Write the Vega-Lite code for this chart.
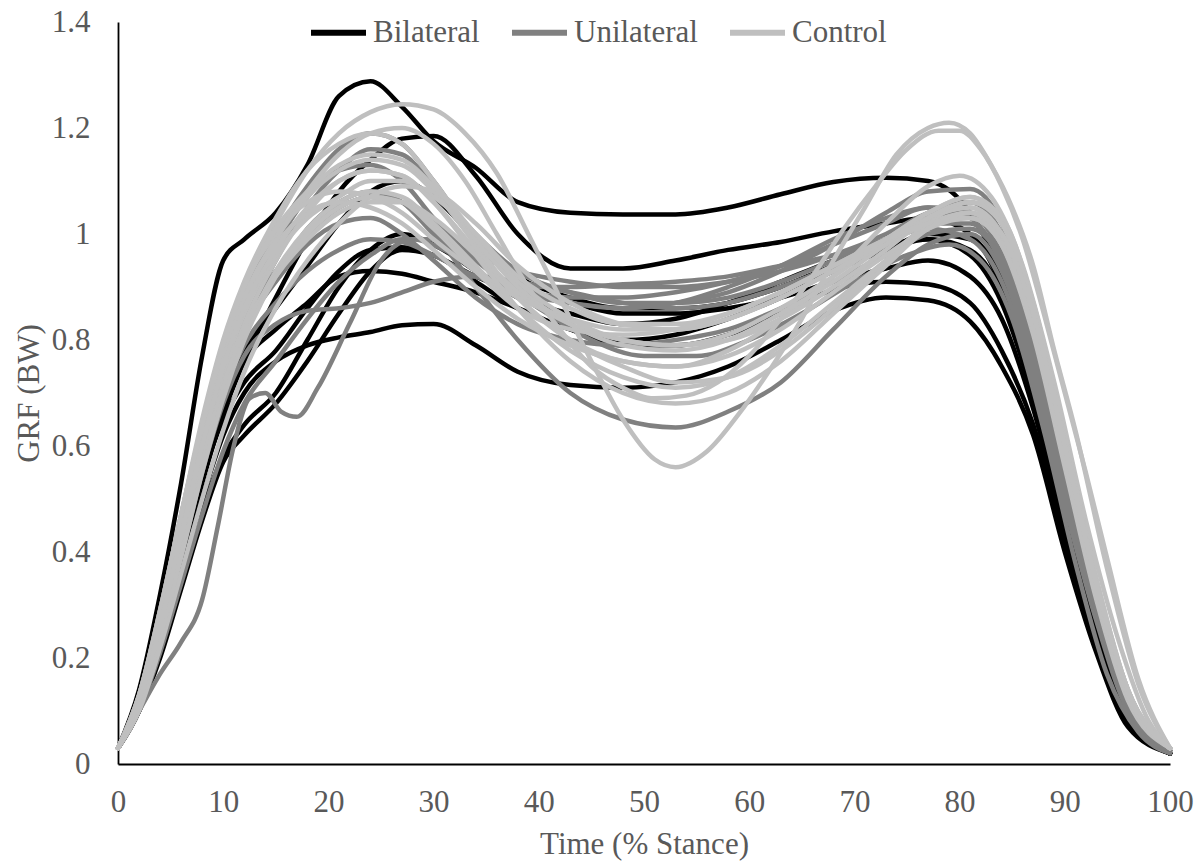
{
"$schema": "https://vega.github.io/schema/vega-lite/v6.json",
"width": 1052, "height": 742,
"autosize": {"type": "none"},
"padding": {"left": 118, "top": 22, "right": 33, "bottom": 103},
"background": "white",
"config": {"view": {"stroke": null}, "font": "Liberation Serif"},
"datasets": {
"groups": [
{"i":1,"g":"Bilateral"},{"i":2,"g":"Bilateral"},{"i":3,"g":"Bilateral"},{"i":4,"g":"Bilateral"},{"i":5,"g":"Bilateral"},{"i":6,"g":"Bilateral"},{"i":7,"g":"Bilateral"},{"i":8,"g":"Bilateral"},
{"i":9,"g":"Unilateral"},{"i":10,"g":"Unilateral"},{"i":11,"g":"Unilateral"},{"i":12,"g":"Unilateral"},{"i":13,"g":"Unilateral"},{"i":14,"g":"Unilateral"},{"i":15,"g":"Unilateral"},{"i":16,"g":"Unilateral"},{"i":17,"g":"Unilateral"},{"i":18,"g":"Unilateral"},
{"i":19,"g":"Control"},{"i":20,"g":"Control"},{"i":21,"g":"Control"},{"i":22,"g":"Control"},{"i":23,"g":"Control"},{"i":24,"g":"Control"},{"i":25,"g":"Control"},{"i":26,"g":"Control"},{"i":27,"g":"Control"},{"i":28,"g":"Control"},{"i":29,"g":"Control"},{"i":30,"g":"Control"},{"i":31,"g":"Control"},{"i":32,"g":"Control"}
],
"curves": [
{"i":1,"x":0,"y":0.03},{"i":1,"x":2,"y":0.14},{"i":1,"x":4,"y":0.32},{"i":1,"x":6,"y":0.53},{"i":1,"x":8,"y":0.77},{"i":1,"x":10,"y":0.95},{"i":1,"x":12,"y":0.99},{"i":1,"x":15,"y":1.04},{"i":1,"x":18,"y":1.13},{"i":1,"x":21,"y":1.26},{"i":1,"x":24,"y":1.288},{"i":1,"x":27,"y":1.24},{"i":1,"x":30,"y":1.175},{"i":1,"x":34,"y":1.125},{"i":1,"x":38,"y":1.06},{"i":1,"x":43,"y":1.04},{"i":1,"x":48,"y":1.037},{"i":1,"x":53,"y":1.037},{"i":1,"x":58,"y":1.05},{"i":1,"x":63,"y":1.075},{"i":1,"x":68,"y":1.098},{"i":1,"x":73,"y":1.106},{"i":1,"x":77,"y":1.1},{"i":1,"x":81,"y":1.04},{"i":1,"x":84,"y":0.92},{"i":1,"x":87,"y":0.72},{"i":1,"x":90,"y":0.46},{"i":1,"x":93,"y":0.24},{"i":1,"x":96,"y":0.08},{"i":1,"x":100,"y":0.02},
{"i":2,"x":0,"y":0.03},{"i":2,"x":2,"y":0.11},{"i":2,"x":4,"y":0.24},{"i":2,"x":6,"y":0.38},{"i":2,"x":8,"y":0.53},{"i":2,"x":10,"y":0.66},{"i":2,"x":12,"y":0.76},{"i":2,"x":15,"y":0.88},{"i":2,"x":18,"y":0.99},{"i":2,"x":21,"y":1.08},{"i":2,"x":24,"y":1.14},{"i":2,"x":27,"y":1.18},{"i":2,"x":30,"y":1.185},{"i":2,"x":34,"y":1.11},{"i":2,"x":38,"y":1.0},{"i":2,"x":43,"y":0.935},{"i":2,"x":48,"y":0.935},{"i":2,"x":53,"y":0.95},{"i":2,"x":58,"y":0.97},{"i":2,"x":63,"y":0.985},{"i":2,"x":68,"y":1.005},{"i":2,"x":73,"y":1.02},{"i":2,"x":77,"y":1.03},{"i":2,"x":81,"y":1.0},{"i":2,"x":84,"y":0.9},{"i":2,"x":87,"y":0.7},{"i":2,"x":90,"y":0.46},{"i":2,"x":93,"y":0.25},{"i":2,"x":96,"y":0.09},{"i":2,"x":100,"y":0.02},
{"i":3,"x":0,"y":0.03},{"i":3,"x":2,"y":0.1},{"i":3,"x":4,"y":0.22},{"i":3,"x":6,"y":0.36},{"i":3,"x":8,"y":0.5},{"i":3,"x":10,"y":0.62},{"i":3,"x":12,"y":0.7},{"i":3,"x":15,"y":0.76},{"i":3,"x":18,"y":0.79},{"i":3,"x":21,"y":0.805},{"i":3,"x":24,"y":0.815},{"i":3,"x":27,"y":0.828},{"i":3,"x":30,"y":0.83},{"i":3,"x":34,"y":0.79},{"i":3,"x":38,"y":0.74},{"i":3,"x":43,"y":0.715},{"i":3,"x":48,"y":0.71},{"i":3,"x":53,"y":0.72},{"i":3,"x":58,"y":0.75},{"i":3,"x":63,"y":0.8},{"i":3,"x":68,"y":0.855},{"i":3,"x":73,"y":0.88},{"i":3,"x":77,"y":0.875},{"i":3,"x":81,"y":0.835},{"i":3,"x":84,"y":0.75},{"i":3,"x":87,"y":0.62},{"i":3,"x":90,"y":0.4},{"i":3,"x":93,"y":0.21},{"i":3,"x":96,"y":0.07},{"i":3,"x":100,"y":0.02},
{"i":4,"x":0,"y":0.03},{"i":4,"x":2,"y":0.1},{"i":4,"x":4,"y":0.2},{"i":4,"x":6,"y":0.33},{"i":4,"x":8,"y":0.46},{"i":4,"x":10,"y":0.57},{"i":4,"x":12,"y":0.62},{"i":4,"x":15,"y":0.68},{"i":4,"x":18,"y":0.76},{"i":4,"x":21,"y":0.85},{"i":4,"x":24,"y":0.93},{"i":4,"x":27,"y":0.97},{"i":4,"x":30,"y":0.96},{"i":4,"x":34,"y":0.91},{"i":4,"x":38,"y":0.86},{"i":4,"x":43,"y":0.82},{"i":4,"x":48,"y":0.79},{"i":4,"x":53,"y":0.79},{"i":4,"x":58,"y":0.81},{"i":4,"x":63,"y":0.85},{"i":4,"x":68,"y":0.895},{"i":4,"x":73,"y":0.91},{"i":4,"x":77,"y":0.905},{"i":4,"x":81,"y":0.87},{"i":4,"x":84,"y":0.78},{"i":4,"x":87,"y":0.64},{"i":4,"x":90,"y":0.42},{"i":4,"x":93,"y":0.22},{"i":4,"x":96,"y":0.08},{"i":4,"x":100,"y":0.02},
{"i":5,"x":0,"y":0.03},{"i":5,"x":2,"y":0.1},{"i":5,"x":4,"y":0.21},{"i":5,"x":6,"y":0.35},{"i":5,"x":8,"y":0.48},{"i":5,"x":10,"y":0.58},{"i":5,"x":12,"y":0.64},{"i":5,"x":15,"y":0.7},{"i":5,"x":18,"y":0.8},{"i":5,"x":21,"y":0.9},{"i":5,"x":24,"y":0.97},{"i":5,"x":27,"y":1.0},{"i":5,"x":30,"y":0.98},{"i":5,"x":34,"y":0.93},{"i":5,"x":38,"y":0.88},{"i":5,"x":43,"y":0.85},{"i":5,"x":48,"y":0.83},{"i":5,"x":53,"y":0.84},{"i":5,"x":58,"y":0.87},{"i":5,"x":63,"y":0.91},{"i":5,"x":68,"y":0.95},{"i":5,"x":73,"y":0.98},{"i":5,"x":77,"y":0.99},{"i":5,"x":81,"y":0.96},{"i":5,"x":84,"y":0.87},{"i":5,"x":87,"y":0.69},{"i":5,"x":90,"y":0.45},{"i":5,"x":93,"y":0.24},{"i":5,"x":96,"y":0.09},{"i":5,"x":100,"y":0.02},
{"i":6,"x":0,"y":0.03},{"i":6,"x":2,"y":0.12},{"i":6,"x":4,"y":0.26},{"i":6,"x":6,"y":0.42},{"i":6,"x":8,"y":0.57},{"i":6,"x":10,"y":0.69},{"i":6,"x":12,"y":0.78},{"i":6,"x":15,"y":0.86},{"i":6,"x":18,"y":0.94},{"i":6,"x":21,"y":1.02},{"i":6,"x":24,"y":1.08},{"i":6,"x":27,"y":1.1},{"i":6,"x":30,"y":1.07},{"i":6,"x":34,"y":0.99},{"i":6,"x":38,"y":0.92},{"i":6,"x":43,"y":0.88},{"i":6,"x":48,"y":0.86},{"i":6,"x":53,"y":0.86},{"i":6,"x":58,"y":0.87},{"i":6,"x":63,"y":0.9},{"i":6,"x":68,"y":0.94},{"i":6,"x":73,"y":0.97},{"i":6,"x":77,"y":0.99},{"i":6,"x":81,"y":0.97},{"i":6,"x":84,"y":0.89},{"i":6,"x":87,"y":0.71},{"i":6,"x":90,"y":0.47},{"i":6,"x":93,"y":0.25},{"i":6,"x":96,"y":0.09},{"i":6,"x":100,"y":0.02},
{"i":7,"x":0,"y":0.03},{"i":7,"x":2,"y":0.11},{"i":7,"x":4,"y":0.24},{"i":7,"x":6,"y":0.39},{"i":7,"x":8,"y":0.54},{"i":7,"x":10,"y":0.65},{"i":7,"x":12,"y":0.72},{"i":7,"x":15,"y":0.78},{"i":7,"x":18,"y":0.86},{"i":7,"x":21,"y":0.93},{"i":7,"x":24,"y":0.97},{"i":7,"x":27,"y":0.975},{"i":7,"x":30,"y":0.96},{"i":7,"x":34,"y":0.92},{"i":7,"x":38,"y":0.89},{"i":7,"x":43,"y":0.87},{"i":7,"x":48,"y":0.85},{"i":7,"x":53,"y":0.85},{"i":7,"x":58,"y":0.86},{"i":7,"x":63,"y":0.88},{"i":7,"x":68,"y":0.91},{"i":7,"x":73,"y":0.935},{"i":7,"x":77,"y":0.95},{"i":7,"x":81,"y":0.92},{"i":7,"x":84,"y":0.84},{"i":7,"x":87,"y":0.67},{"i":7,"x":90,"y":0.44},{"i":7,"x":93,"y":0.23},{"i":7,"x":96,"y":0.08},{"i":7,"x":100,"y":0.02},
{"i":8,"x":0,"y":0.03},{"i":8,"x":2,"y":0.12},{"i":8,"x":4,"y":0.25},{"i":8,"x":6,"y":0.4},{"i":8,"x":8,"y":0.55},{"i":8,"x":10,"y":0.68},{"i":8,"x":12,"y":0.76},{"i":8,"x":15,"y":0.82},{"i":8,"x":18,"y":0.87},{"i":8,"x":21,"y":0.92},{"i":8,"x":24,"y":0.93},{"i":8,"x":27,"y":0.925},{"i":8,"x":30,"y":0.91},{"i":8,"x":34,"y":0.89},{"i":8,"x":38,"y":0.86},{"i":8,"x":43,"y":0.82},{"i":8,"x":48,"y":0.8},{"i":8,"x":53,"y":0.81},{"i":8,"x":58,"y":0.84},{"i":8,"x":63,"y":0.88},{"i":8,"x":68,"y":0.93},{"i":8,"x":73,"y":0.97},{"i":8,"x":77,"y":1.0},{"i":8,"x":81,"y":0.99},{"i":8,"x":84,"y":0.92},{"i":8,"x":87,"y":0.74},{"i":8,"x":90,"y":0.49},{"i":8,"x":93,"y":0.27},{"i":8,"x":96,"y":0.1},{"i":8,"x":100,"y":0.02},
{"i":9,"x":0,"y":0.03},{"i":9,"x":2,"y":0.1},{"i":9,"x":4,"y":0.17},{"i":9,"x":6,"y":0.23},{"i":9,"x":8,"y":0.31},{"i":9,"x":9.5,"y":0.45},{"i":9,"x":11,"y":0.6},{"i":9,"x":12.5,"y":0.69},{"i":9,"x":14,"y":0.7},{"i":9,"x":15.5,"y":0.665},{"i":9,"x":17,"y":0.655},{"i":9,"x":19,"y":0.71},{"i":9,"x":22,"y":0.83},{"i":9,"x":25,"y":0.95},{"i":9,"x":28,"y":0.99},{"i":9,"x":31,"y":0.97},{"i":9,"x":35,"y":0.92},{"i":9,"x":40,"y":0.86},{"i":9,"x":45,"y":0.8},{"i":9,"x":50,"y":0.77},{"i":9,"x":55,"y":0.77},{"i":9,"x":60,"y":0.8},{"i":9,"x":65,"y":0.85},{"i":9,"x":70,"y":0.91},{"i":9,"x":75,"y":0.96},{"i":9,"x":79,"y":0.98},{"i":9,"x":82,"y":0.95},{"i":9,"x":85,"y":0.84},{"i":9,"x":88,"y":0.63},{"i":9,"x":91,"y":0.38},{"i":9,"x":94,"y":0.17},{"i":9,"x":97,"y":0.06},{"i":9,"x":100,"y":0.02},
{"i":10,"x":0,"y":0.03},{"i":10,"x":2,"y":0.13},{"i":10,"x":4,"y":0.29},{"i":10,"x":6,"y":0.47},{"i":10,"x":8,"y":0.64},{"i":10,"x":10,"y":0.78},{"i":10,"x":12,"y":0.89},{"i":10,"x":15,"y":1.0},{"i":10,"x":18,"y":1.09},{"i":10,"x":21,"y":1.16},{"i":10,"x":24,"y":1.19},{"i":10,"x":27,"y":1.17},{"i":10,"x":30,"y":1.1},{"i":10,"x":34,"y":0.99},{"i":10,"x":38,"y":0.91},{"i":10,"x":43,"y":0.87},{"i":10,"x":48,"y":0.86},{"i":10,"x":53,"y":0.87},{"i":10,"x":58,"y":0.9},{"i":10,"x":63,"y":0.94},{"i":10,"x":68,"y":0.99},{"i":10,"x":73,"y":1.03},{"i":10,"x":77,"y":1.05},{"i":10,"x":81,"y":1.03},{"i":10,"x":84,"y":0.94},{"i":10,"x":87,"y":0.75},{"i":10,"x":90,"y":0.5},{"i":10,"x":93,"y":0.28},{"i":10,"x":96,"y":0.11},{"i":10,"x":100,"y":0.025},
{"i":11,"x":0,"y":0.03},{"i":11,"x":2,"y":0.12},{"i":11,"x":4,"y":0.27},{"i":11,"x":6,"y":0.44},{"i":11,"x":8,"y":0.6},{"i":11,"x":10,"y":0.73},{"i":11,"x":12,"y":0.83},{"i":11,"x":15,"y":0.93},{"i":11,"x":18,"y":1.0},{"i":11,"x":21,"y":1.05},{"i":11,"x":24,"y":1.07},{"i":11,"x":27,"y":1.06},{"i":11,"x":30,"y":1.0},{"i":11,"x":34,"y":0.9},{"i":11,"x":38,"y":0.8},{"i":11,"x":43,"y":0.7},{"i":11,"x":48,"y":0.65},{"i":11,"x":53,"y":0.635},{"i":11,"x":58,"y":0.665},{"i":11,"x":63,"y":0.72},{"i":11,"x":68,"y":0.82},{"i":11,"x":73,"y":0.92},{"i":11,"x":77,"y":0.98},{"i":11,"x":81,"y":1.0},{"i":11,"x":84,"y":0.93},{"i":11,"x":87,"y":0.75},{"i":11,"x":90,"y":0.5},{"i":11,"x":93,"y":0.28},{"i":11,"x":96,"y":0.11},{"i":11,"x":100,"y":0.025},
{"i":12,"x":0,"y":0.03},{"i":12,"x":2,"y":0.11},{"i":12,"x":4,"y":0.24},{"i":12,"x":6,"y":0.39},{"i":12,"x":8,"y":0.55},{"i":12,"x":10,"y":0.68},{"i":12,"x":12,"y":0.77},{"i":12,"x":15,"y":0.83},{"i":12,"x":18,"y":0.855},{"i":12,"x":21,"y":0.86},{"i":12,"x":24,"y":0.87},{"i":12,"x":27,"y":0.89},{"i":12,"x":30,"y":0.91},{"i":12,"x":34,"y":0.92},{"i":12,"x":38,"y":0.91},{"i":12,"x":43,"y":0.89},{"i":12,"x":48,"y":0.87},{"i":12,"x":53,"y":0.86},{"i":12,"x":58,"y":0.87},{"i":12,"x":63,"y":0.9},{"i":12,"x":68,"y":0.94},{"i":12,"x":73,"y":0.99},{"i":12,"x":77,"y":1.03},{"i":12,"x":81,"y":1.04},{"i":12,"x":84,"y":0.97},{"i":12,"x":87,"y":0.79},{"i":12,"x":90,"y":0.54},{"i":12,"x":93,"y":0.3},{"i":12,"x":96,"y":0.12},{"i":12,"x":100,"y":0.025},
{"i":13,"x":0,"y":0.03},{"i":13,"x":2,"y":0.12},{"i":13,"x":4,"y":0.26},{"i":13,"x":6,"y":0.42},{"i":13,"x":8,"y":0.58},{"i":13,"x":10,"y":0.71},{"i":13,"x":12,"y":0.81},{"i":13,"x":15,"y":0.92},{"i":13,"x":18,"y":1.01},{"i":13,"x":21,"y":1.06},{"i":13,"x":24,"y":1.08},{"i":13,"x":27,"y":1.06},{"i":13,"x":30,"y":1.0},{"i":13,"x":34,"y":0.93},{"i":13,"x":38,"y":0.89},{"i":13,"x":43,"y":0.87},{"i":13,"x":48,"y":0.86},{"i":13,"x":53,"y":0.87},{"i":13,"x":58,"y":0.89},{"i":13,"x":63,"y":0.93},{"i":13,"x":68,"y":0.98},{"i":13,"x":73,"y":1.04},{"i":13,"x":77,"y":1.08},{"i":13,"x":81,"y":1.085},{"i":13,"x":84,"y":1.02},{"i":13,"x":87,"y":0.83},{"i":13,"x":90,"y":0.56},{"i":13,"x":93,"y":0.31},{"i":13,"x":96,"y":0.12},{"i":13,"x":100,"y":0.025},
{"i":14,"x":0,"y":0.03},{"i":14,"x":2,"y":0.13},{"i":14,"x":4,"y":0.28},{"i":14,"x":6,"y":0.45},{"i":14,"x":8,"y":0.62},{"i":14,"x":10,"y":0.76},{"i":14,"x":12,"y":0.87},{"i":14,"x":15,"y":0.98},{"i":14,"x":18,"y":1.07},{"i":14,"x":21,"y":1.12},{"i":14,"x":24,"y":1.13},{"i":14,"x":27,"y":1.1},{"i":14,"x":30,"y":1.03},{"i":14,"x":34,"y":0.95},{"i":14,"x":38,"y":0.9},{"i":14,"x":43,"y":0.88},{"i":14,"x":48,"y":0.88},{"i":14,"x":53,"y":0.89},{"i":14,"x":58,"y":0.91},{"i":14,"x":63,"y":0.94},{"i":14,"x":68,"y":0.98},{"i":14,"x":73,"y":1.02},{"i":14,"x":77,"y":1.05},{"i":14,"x":81,"y":1.04},{"i":14,"x":84,"y":0.96},{"i":14,"x":87,"y":0.78},{"i":14,"x":90,"y":0.53},{"i":14,"x":93,"y":0.29},{"i":14,"x":96,"y":0.11},{"i":14,"x":100,"y":0.025},
{"i":15,"x":0,"y":0.03},{"i":15,"x":2,"y":0.11},{"i":15,"x":4,"y":0.25},{"i":15,"x":6,"y":0.41},{"i":15,"x":8,"y":0.57},{"i":15,"x":10,"y":0.7},{"i":15,"x":12,"y":0.79},{"i":15,"x":15,"y":0.87},{"i":15,"x":18,"y":0.93},{"i":15,"x":21,"y":0.97},{"i":15,"x":24,"y":0.99},{"i":15,"x":27,"y":0.985},{"i":15,"x":30,"y":0.96},{"i":15,"x":34,"y":0.92},{"i":15,"x":38,"y":0.9},{"i":15,"x":43,"y":0.9},{"i":15,"x":48,"y":0.905},{"i":15,"x":53,"y":0.91},{"i":15,"x":58,"y":0.92},{"i":15,"x":63,"y":0.94},{"i":15,"x":68,"y":0.96},{"i":15,"x":73,"y":0.99},{"i":15,"x":77,"y":1.01},{"i":15,"x":81,"y":0.99},{"i":15,"x":84,"y":0.91},{"i":15,"x":87,"y":0.73},{"i":15,"x":90,"y":0.49},{"i":15,"x":93,"y":0.27},{"i":15,"x":96,"y":0.1},{"i":15,"x":100,"y":0.025},
{"i":16,"x":0,"y":0.03},{"i":16,"x":2,"y":0.12},{"i":16,"x":4,"y":0.27},{"i":16,"x":6,"y":0.43},{"i":16,"x":8,"y":0.59},{"i":16,"x":10,"y":0.72},{"i":16,"x":12,"y":0.82},{"i":16,"x":15,"y":0.91},{"i":16,"x":18,"y":0.98},{"i":16,"x":21,"y":1.02},{"i":16,"x":24,"y":1.03},{"i":16,"x":27,"y":1.0},{"i":16,"x":30,"y":0.95},{"i":16,"x":34,"y":0.88},{"i":16,"x":38,"y":0.83},{"i":16,"x":43,"y":0.8},{"i":16,"x":48,"y":0.79},{"i":16,"x":53,"y":0.8},{"i":16,"x":58,"y":0.82},{"i":16,"x":63,"y":0.86},{"i":16,"x":68,"y":0.91},{"i":16,"x":73,"y":0.96},{"i":16,"x":77,"y":1.0},{"i":16,"x":81,"y":1.01},{"i":16,"x":84,"y":0.95},{"i":16,"x":87,"y":0.78},{"i":16,"x":90,"y":0.53},{"i":16,"x":93,"y":0.29},{"i":16,"x":96,"y":0.11},{"i":16,"x":100,"y":0.025},
{"i":17,"x":0,"y":0.03},{"i":17,"x":2,"y":0.1},{"i":17,"x":4,"y":0.21},{"i":17,"x":6,"y":0.34},{"i":17,"x":8,"y":0.47},{"i":17,"x":10,"y":0.59},{"i":17,"x":12,"y":0.68},{"i":17,"x":15,"y":0.76},{"i":17,"x":18,"y":0.84},{"i":17,"x":21,"y":0.91},{"i":17,"x":24,"y":0.96},{"i":17,"x":27,"y":0.99},{"i":17,"x":30,"y":0.99},{"i":17,"x":34,"y":0.96},{"i":17,"x":38,"y":0.93},{"i":17,"x":43,"y":0.91},{"i":17,"x":48,"y":0.9},{"i":17,"x":53,"y":0.9},{"i":17,"x":58,"y":0.91},{"i":17,"x":63,"y":0.93},{"i":17,"x":68,"y":0.96},{"i":17,"x":73,"y":1.0},{"i":17,"x":77,"y":1.04},{"i":17,"x":81,"y":1.06},{"i":17,"x":84,"y":1.0},{"i":17,"x":87,"y":0.82},{"i":17,"x":90,"y":0.56},{"i":17,"x":93,"y":0.31},{"i":17,"x":96,"y":0.12},{"i":17,"x":100,"y":0.025},
{"i":18,"x":0,"y":0.03},{"i":18,"x":2,"y":0.12},{"i":18,"x":4,"y":0.26},{"i":18,"x":6,"y":0.42},{"i":18,"x":8,"y":0.58},{"i":18,"x":10,"y":0.72},{"i":18,"x":12,"y":0.83},{"i":18,"x":15,"y":0.95},{"i":18,"x":18,"y":1.05},{"i":18,"x":21,"y":1.12},{"i":18,"x":24,"y":1.16},{"i":18,"x":27,"y":1.15},{"i":18,"x":30,"y":1.09},{"i":18,"x":34,"y":1.0},{"i":18,"x":38,"y":0.93},{"i":18,"x":43,"y":0.89},{"i":18,"x":48,"y":0.87},{"i":18,"x":53,"y":0.87},{"i":18,"x":58,"y":0.88},{"i":18,"x":63,"y":0.91},{"i":18,"x":68,"y":0.95},{"i":18,"x":73,"y":0.99},{"i":18,"x":77,"y":1.02},{"i":18,"x":81,"y":1.02},{"i":18,"x":84,"y":0.95},{"i":18,"x":87,"y":0.77},{"i":18,"x":90,"y":0.52},{"i":18,"x":93,"y":0.29},{"i":18,"x":96,"y":0.11},{"i":18,"x":100,"y":0.025},
{"i":19,"x":0,"y":0.03},{"i":19,"x":2,"y":0.12},{"i":19,"x":4,"y":0.27},{"i":19,"x":6,"y":0.44},{"i":19,"x":8,"y":0.62},{"i":19,"x":10,"y":0.78},{"i":19,"x":12,"y":0.9},{"i":19,"x":15,"y":1.02},{"i":19,"x":18,"y":1.12},{"i":19,"x":21,"y":1.19},{"i":19,"x":24,"y":1.23},{"i":19,"x":27,"y":1.245},{"i":19,"x":30,"y":1.235},{"i":19,"x":33,"y":1.19},{"i":19,"x":36,"y":1.115},{"i":19,"x":39,"y":1.0},{"i":19,"x":42,"y":0.88},{"i":19,"x":45,"y":0.76},{"i":19,"x":48,"y":0.65},{"i":19,"x":51,"y":0.575},{"i":19,"x":53,"y":0.56},{"i":19,"x":56,"y":0.59},{"i":19,"x":59,"y":0.66},{"i":19,"x":62,"y":0.745},{"i":19,"x":65,"y":0.84},{"i":19,"x":68,"y":0.95},{"i":19,"x":71,"y":1.05},{"i":19,"x":74,"y":1.15},{"i":19,"x":77,"y":1.2},{"i":19,"x":79,"y":1.21},{"i":19,"x":81,"y":1.19},{"i":19,"x":83,"y":1.13},{"i":19,"x":85,"y":1.05},{"i":19,"x":87,"y":0.94},{"i":19,"x":89,"y":0.78},{"i":19,"x":91,"y":0.63},{"i":19,"x":94,"y":0.37},{"i":19,"x":97,"y":0.15},{"i":19,"x":100,"y":0.03},
{"i":20,"x":0,"y":0.03},{"i":20,"x":2,"y":0.12},{"i":20,"x":4,"y":0.26},{"i":20,"x":6,"y":0.43},{"i":20,"x":8,"y":0.6},{"i":20,"x":10,"y":0.75},{"i":20,"x":12,"y":0.87},{"i":20,"x":15,"y":0.99},{"i":20,"x":18,"y":1.08},{"i":20,"x":21,"y":1.15},{"i":20,"x":24,"y":1.19},{"i":20,"x":27,"y":1.2},{"i":20,"x":30,"y":1.17},{"i":20,"x":33,"y":1.1},{"i":20,"x":36,"y":1.0},{"i":20,"x":39,"y":0.9},{"i":20,"x":42,"y":0.82},{"i":20,"x":45,"y":0.75},{"i":20,"x":48,"y":0.71},{"i":20,"x":51,"y":0.69},{"i":20,"x":54,"y":0.695},{"i":20,"x":57,"y":0.72},{"i":20,"x":60,"y":0.77},{"i":20,"x":63,"y":0.84},{"i":20,"x":66,"y":0.92},{"i":20,"x":69,"y":1.01},{"i":20,"x":72,"y":1.09},{"i":20,"x":75,"y":1.16},{"i":20,"x":78,"y":1.195},{"i":20,"x":80,"y":1.195},{"i":20,"x":82,"y":1.16},{"i":20,"x":84,"y":1.09},{"i":20,"x":86,"y":0.99},{"i":20,"x":88,"y":0.85},{"i":20,"x":90,"y":0.7},{"i":20,"x":92,"y":0.55},{"i":20,"x":94,"y":0.39},{"i":20,"x":97,"y":0.16},{"i":20,"x":100,"y":0.03},
{"i":21,"x":0,"y":0.03},{"i":21,"x":2,"y":0.12},{"i":21,"x":4,"y":0.27},{"i":21,"x":6,"y":0.44},{"i":21,"x":8,"y":0.61},{"i":21,"x":10,"y":0.76},{"i":21,"x":12,"y":0.88},{"i":21,"x":15,"y":0.99},{"i":21,"x":18,"y":1.07},{"i":21,"x":21,"y":1.12},{"i":21,"x":24,"y":1.14},{"i":21,"x":27,"y":1.13},{"i":21,"x":30,"y":1.08},{"i":21,"x":34,"y":0.98},{"i":21,"x":38,"y":0.88},{"i":21,"x":43,"y":0.8},{"i":21,"x":48,"y":0.76},{"i":21,"x":53,"y":0.75},{"i":21,"x":58,"y":0.78},{"i":21,"x":63,"y":0.84},{"i":21,"x":68,"y":0.92},{"i":21,"x":73,"y":1.02},{"i":21,"x":77,"y":1.09},{"i":21,"x":80,"y":1.11},{"i":21,"x":83,"y":1.07},{"i":21,"x":86,"y":0.94},{"i":21,"x":89,"y":0.72},{"i":21,"x":92,"y":0.46},{"i":21,"x":95,"y":0.24},{"i":21,"x":98,"y":0.08},{"i":21,"x":100,"y":0.03},
{"i":22,"x":0,"y":0.03},{"i":22,"x":2,"y":0.13},{"i":22,"x":4,"y":0.29},{"i":22,"x":6,"y":0.47},{"i":22,"x":8,"y":0.65},{"i":22,"x":10,"y":0.8},{"i":22,"x":12,"y":0.91},{"i":22,"x":15,"y":1.03},{"i":22,"x":18,"y":1.12},{"i":22,"x":21,"y":1.17},{"i":22,"x":24,"y":1.19},{"i":22,"x":27,"y":1.17},{"i":22,"x":30,"y":1.1},{"i":22,"x":34,"y":0.99},{"i":22,"x":38,"y":0.9},{"i":22,"x":43,"y":0.83},{"i":22,"x":48,"y":0.79},{"i":22,"x":53,"y":0.78},{"i":22,"x":58,"y":0.8},{"i":22,"x":63,"y":0.85},{"i":22,"x":68,"y":0.91},{"i":22,"x":73,"y":0.98},{"i":22,"x":77,"y":1.03},{"i":22,"x":81,"y":1.05},{"i":22,"x":84,"y":0.99},{"i":22,"x":87,"y":0.82},{"i":22,"x":90,"y":0.57},{"i":22,"x":93,"y":0.32},{"i":22,"x":96,"y":0.13},{"i":22,"x":100,"y":0.03},
{"i":23,"x":0,"y":0.03},{"i":23,"x":2,"y":0.12},{"i":23,"x":4,"y":0.26},{"i":23,"x":6,"y":0.42},{"i":23,"x":8,"y":0.58},{"i":23,"x":10,"y":0.72},{"i":23,"x":12,"y":0.83},{"i":23,"x":15,"y":0.95},{"i":23,"x":18,"y":1.04},{"i":23,"x":21,"y":1.1},{"i":23,"x":24,"y":1.12},{"i":23,"x":27,"y":1.11},{"i":23,"x":30,"y":1.06},{"i":23,"x":34,"y":0.97},{"i":23,"x":38,"y":0.89},{"i":23,"x":43,"y":0.83},{"i":23,"x":48,"y":0.8},{"i":23,"x":53,"y":0.79},{"i":23,"x":58,"y":0.81},{"i":23,"x":63,"y":0.86},{"i":23,"x":68,"y":0.92},{"i":23,"x":73,"y":0.99},{"i":23,"x":77,"y":1.04},{"i":23,"x":81,"y":1.07},{"i":23,"x":84,"y":1.02},{"i":23,"x":87,"y":0.85},{"i":23,"x":90,"y":0.6},{"i":23,"x":93,"y":0.34},{"i":23,"x":96,"y":0.14},{"i":23,"x":100,"y":0.03},
{"i":24,"x":0,"y":0.03},{"i":24,"x":2,"y":0.11},{"i":24,"x":4,"y":0.24},{"i":24,"x":6,"y":0.4},{"i":24,"x":8,"y":0.56},{"i":24,"x":10,"y":0.7},{"i":24,"x":12,"y":0.81},{"i":24,"x":15,"y":0.93},{"i":24,"x":18,"y":1.01},{"i":24,"x":21,"y":1.06},{"i":24,"x":24,"y":1.08},{"i":24,"x":27,"y":1.07},{"i":24,"x":30,"y":1.02},{"i":24,"x":34,"y":0.94},{"i":24,"x":38,"y":0.86},{"i":24,"x":43,"y":0.78},{"i":24,"x":48,"y":0.73},{"i":24,"x":53,"y":0.71},{"i":24,"x":58,"y":0.73},{"i":24,"x":63,"y":0.79},{"i":24,"x":68,"y":0.87},{"i":24,"x":73,"y":0.95},{"i":24,"x":77,"y":1.01},{"i":24,"x":81,"y":1.04},{"i":24,"x":84,"y":1.0},{"i":24,"x":87,"y":0.84},{"i":24,"x":90,"y":0.59},{"i":24,"x":93,"y":0.33},{"i":24,"x":96,"y":0.13},{"i":24,"x":100,"y":0.03},
{"i":25,"x":0,"y":0.03},{"i":25,"x":2,"y":0.12},{"i":25,"x":4,"y":0.27},{"i":25,"x":6,"y":0.45},{"i":25,"x":8,"y":0.63},{"i":25,"x":10,"y":0.78},{"i":25,"x":12,"y":0.9},{"i":25,"x":15,"y":1.0},{"i":25,"x":18,"y":1.06},{"i":25,"x":21,"y":1.08},{"i":25,"x":24,"y":1.07},{"i":25,"x":27,"y":1.04},{"i":25,"x":30,"y":0.99},{"i":25,"x":34,"y":0.93},{"i":25,"x":38,"y":0.88},{"i":25,"x":43,"y":0.84},{"i":25,"x":48,"y":0.82},{"i":25,"x":53,"y":0.82},{"i":25,"x":58,"y":0.84},{"i":25,"x":63,"y":0.88},{"i":25,"x":68,"y":0.93},{"i":25,"x":73,"y":0.98},{"i":25,"x":77,"y":1.02},{"i":25,"x":81,"y":1.04},{"i":25,"x":84,"y":0.98},{"i":25,"x":87,"y":0.81},{"i":25,"x":90,"y":0.56},{"i":25,"x":93,"y":0.31},{"i":25,"x":96,"y":0.12},{"i":25,"x":100,"y":0.03},
{"i":26,"x":0,"y":0.03},{"i":26,"x":2,"y":0.11},{"i":26,"x":4,"y":0.25},{"i":26,"x":6,"y":0.41},{"i":26,"x":8,"y":0.57},{"i":26,"x":10,"y":0.71},{"i":26,"x":12,"y":0.82},{"i":26,"x":15,"y":0.92},{"i":26,"x":18,"y":0.99},{"i":26,"x":21,"y":1.04},{"i":26,"x":24,"y":1.06},{"i":26,"x":27,"y":1.06},{"i":26,"x":30,"y":1.03},{"i":26,"x":34,"y":0.96},{"i":26,"x":38,"y":0.88},{"i":26,"x":43,"y":0.8},{"i":26,"x":48,"y":0.75},{"i":26,"x":53,"y":0.72},{"i":26,"x":58,"y":0.73},{"i":26,"x":63,"y":0.78},{"i":26,"x":68,"y":0.86},{"i":26,"x":73,"y":0.95},{"i":26,"x":77,"y":1.02},{"i":26,"x":81,"y":1.06},{"i":26,"x":84,"y":1.03},{"i":26,"x":87,"y":0.87},{"i":26,"x":90,"y":0.62},{"i":26,"x":93,"y":0.35},{"i":26,"x":96,"y":0.14},{"i":26,"x":100,"y":0.03},
{"i":27,"x":0,"y":0.03},{"i":27,"x":2,"y":0.12},{"i":27,"x":4,"y":0.26},{"i":27,"x":6,"y":0.43},{"i":27,"x":8,"y":0.6},{"i":27,"x":10,"y":0.74},{"i":27,"x":12,"y":0.85},{"i":27,"x":15,"y":0.96},{"i":27,"x":18,"y":1.03},{"i":27,"x":21,"y":1.07},{"i":27,"x":24,"y":1.1},{"i":27,"x":27,"y":1.1},{"i":27,"x":30,"y":1.07},{"i":27,"x":34,"y":1.0},{"i":27,"x":38,"y":0.92},{"i":27,"x":43,"y":0.86},{"i":27,"x":48,"y":0.83},{"i":27,"x":53,"y":0.83},{"i":27,"x":58,"y":0.85},{"i":27,"x":63,"y":0.89},{"i":27,"x":68,"y":0.94},{"i":27,"x":73,"y":0.99},{"i":27,"x":77,"y":1.03},{"i":27,"x":81,"y":1.05},{"i":27,"x":84,"y":1.0},{"i":27,"x":87,"y":0.83},{"i":27,"x":90,"y":0.58},{"i":27,"x":93,"y":0.33},{"i":27,"x":96,"y":0.13},{"i":27,"x":100,"y":0.03},
{"i":28,"x":0,"y":0.03},{"i":28,"x":2,"y":0.12},{"i":28,"x":4,"y":0.27},{"i":28,"x":6,"y":0.45},{"i":28,"x":8,"y":0.62},{"i":28,"x":10,"y":0.77},{"i":28,"x":12,"y":0.88},{"i":28,"x":15,"y":0.98},{"i":28,"x":18,"y":1.04},{"i":28,"x":21,"y":1.06},{"i":28,"x":24,"y":1.05},{"i":28,"x":27,"y":1.02},{"i":28,"x":30,"y":0.97},{"i":28,"x":34,"y":0.9},{"i":28,"x":38,"y":0.84},{"i":28,"x":43,"y":0.79},{"i":28,"x":48,"y":0.76},{"i":28,"x":53,"y":0.75},{"i":28,"x":58,"y":0.77},{"i":28,"x":63,"y":0.82},{"i":28,"x":68,"y":0.89},{"i":28,"x":73,"y":0.96},{"i":28,"x":77,"y":1.01},{"i":28,"x":81,"y":1.03},{"i":28,"x":84,"y":0.98},{"i":28,"x":87,"y":0.82},{"i":28,"x":90,"y":0.57},{"i":28,"x":93,"y":0.32},{"i":28,"x":96,"y":0.13},{"i":28,"x":100,"y":0.03},
{"i":29,"x":0,"y":0.03},{"i":29,"x":2,"y":0.1},{"i":29,"x":4,"y":0.22},{"i":29,"x":6,"y":0.36},{"i":29,"x":8,"y":0.5},{"i":29,"x":10,"y":0.63},{"i":29,"x":12,"y":0.74},{"i":29,"x":15,"y":0.86},{"i":29,"x":18,"y":0.95},{"i":29,"x":21,"y":1.02},{"i":29,"x":24,"y":1.07},{"i":29,"x":27,"y":1.09},{"i":29,"x":30,"y":1.08},{"i":29,"x":34,"y":1.02},{"i":29,"x":38,"y":0.94},{"i":29,"x":43,"y":0.87},{"i":29,"x":48,"y":0.83},{"i":29,"x":53,"y":0.82},{"i":29,"x":58,"y":0.84},{"i":29,"x":63,"y":0.88},{"i":29,"x":68,"y":0.93},{"i":29,"x":73,"y":0.99},{"i":29,"x":77,"y":1.04},{"i":29,"x":81,"y":1.07},{"i":29,"x":84,"y":1.03},{"i":29,"x":87,"y":0.87},{"i":29,"x":90,"y":0.62},{"i":29,"x":93,"y":0.35},{"i":29,"x":96,"y":0.14},{"i":29,"x":100,"y":0.03},
{"i":30,"x":0,"y":0.03},{"i":30,"x":2,"y":0.13},{"i":30,"x":4,"y":0.29},{"i":30,"x":6,"y":0.47},{"i":30,"x":8,"y":0.64},{"i":30,"x":10,"y":0.79},{"i":30,"x":12,"y":0.9},{"i":30,"x":15,"y":1.01},{"i":30,"x":18,"y":1.08},{"i":30,"x":21,"y":1.13},{"i":30,"x":24,"y":1.15},{"i":30,"x":27,"y":1.14},{"i":30,"x":30,"y":1.09},{"i":30,"x":34,"y":1.0},{"i":30,"x":38,"y":0.91},{"i":30,"x":43,"y":0.84},{"i":30,"x":48,"y":0.8},{"i":30,"x":53,"y":0.79},{"i":30,"x":58,"y":0.8},{"i":30,"x":63,"y":0.84},{"i":30,"x":68,"y":0.9},{"i":30,"x":73,"y":0.97},{"i":30,"x":77,"y":1.03},{"i":30,"x":81,"y":1.06},{"i":30,"x":84,"y":1.02},{"i":30,"x":87,"y":0.86},{"i":30,"x":90,"y":0.61},{"i":30,"x":93,"y":0.34},{"i":30,"x":96,"y":0.14},{"i":30,"x":100,"y":0.03},
{"i":31,"x":0,"y":0.03},{"i":31,"x":2,"y":0.11},{"i":31,"x":4,"y":0.24},{"i":31,"x":6,"y":0.39},{"i":31,"x":8,"y":0.55},{"i":31,"x":10,"y":0.69},{"i":31,"x":12,"y":0.8},{"i":31,"x":15,"y":0.92},{"i":31,"x":18,"y":1.0},{"i":31,"x":21,"y":1.05},{"i":31,"x":24,"y":1.07},{"i":31,"x":27,"y":1.06},{"i":31,"x":30,"y":1.01},{"i":31,"x":34,"y":0.93},{"i":31,"x":38,"y":0.86},{"i":31,"x":43,"y":0.82},{"i":31,"x":48,"y":0.81},{"i":31,"x":53,"y":0.82},{"i":31,"x":58,"y":0.85},{"i":31,"x":63,"y":0.89},{"i":31,"x":68,"y":0.94},{"i":31,"x":73,"y":0.99},{"i":31,"x":77,"y":1.02},{"i":31,"x":81,"y":1.03},{"i":31,"x":84,"y":0.98},{"i":31,"x":87,"y":0.82},{"i":31,"x":90,"y":0.57},{"i":31,"x":93,"y":0.32},{"i":31,"x":96,"y":0.13},{"i":31,"x":100,"y":0.03},
{"i":32,"x":0,"y":0.03},{"i":32,"x":2,"y":0.12},{"i":32,"x":4,"y":0.26},{"i":32,"x":6,"y":0.43},{"i":32,"x":8,"y":0.6},{"i":32,"x":10,"y":0.75},{"i":32,"x":12,"y":0.86},{"i":32,"x":15,"y":0.97},{"i":32,"x":18,"y":1.05},{"i":32,"x":21,"y":1.1},{"i":32,"x":24,"y":1.12},{"i":32,"x":27,"y":1.11},{"i":32,"x":30,"y":1.06},{"i":32,"x":34,"y":0.96},{"i":32,"x":38,"y":0.86},{"i":32,"x":43,"y":0.76},{"i":32,"x":48,"y":0.7},{"i":32,"x":53,"y":0.68},{"i":32,"x":58,"y":0.7},{"i":32,"x":63,"y":0.76},{"i":32,"x":68,"y":0.85},{"i":32,"x":73,"y":0.94},{"i":32,"x":77,"y":1.01},{"i":32,"x":81,"y":1.04},{"i":32,"x":84,"y":1.0},{"i":32,"x":87,"y":0.85},{"i":32,"x":90,"y":0.6},{"i":32,"x":93,"y":0.34},{"i":32,"x":96,"y":0.14},{"i":32,"x":100,"y":0.03}
]
},
"data": {"name": "curves"},
"transform": [
{"lookup": "i", "from": {"data": {"name": "groups"}, "key": "i", "fields": ["g"]}}
],
"mark": {"type": "line", "interpolate": "monotone", "strokeWidth": 4.5, "strokeCap": "round", "strokeJoin": "round"},
"encoding": {
"x": {"field": "x", "type": "quantitative", "scale": {"domain": [0, 100], "nice": false},
 "axis": {"values": [0,10,20,30,40,50,60,70,80,90,100], "format": "d", "title": "Time (% Stance)", "grid": false, "ticks": false,
  "domainColor": "#000000", "domainWidth": 1.8, "labelFont": "Liberation Serif", "labelFontSize": 31, "labelColor": "#595959",
  "labelPadding": 23, "labelFlush": false, "titleFont": "Liberation Serif", "titleFontSize": 31, "titleFontWeight": "normal",
  "titleColor": "#595959", "titlePadding": 12}},
"y": {"field": "y", "type": "quantitative", "scale": {"domain": [0, 1.4], "nice": false},
 "axis": {"values": [0,0.2,0.4,0.6,0.8,1,1.2,1.4], "format": "~g", "title": "GRF (BW)", "grid": false, "ticks": false,
  "domainColor": "#000000", "domainWidth": 1.8, "labelFont": "Liberation Serif", "labelFontSize": 31, "labelColor": "#595959",
  "labelPadding": 28, "labelFlush": false, "titleFont": "Liberation Serif", "titleFontSize": 31, "titleFontWeight": "normal",
  "titleColor": "#595959", "titlePadding": 6}},
"color": {"field": "g", "type": "nominal",
 "scale": {"domain": ["Bilateral", "Unilateral", "Control"], "range": ["#000000", "#808080", "#bfbfbf"]},
 "legend": {"orient": "none", "legendX": 190, "legendY": -20, "direction": "horizontal", "title": null,
  "symbolType": "stroke", "symbolSize": 3025, "symbolStrokeWidth": 6, "labelFont": "Liberation Serif", "labelFontSize": 31,
  "labelColor": "#595959", "labelOffset": 4, "columnPadding": 20, "padding": 0, "labelLimit": 300}},
"detail": {"field": "i", "type": "nominal"}
}
}
